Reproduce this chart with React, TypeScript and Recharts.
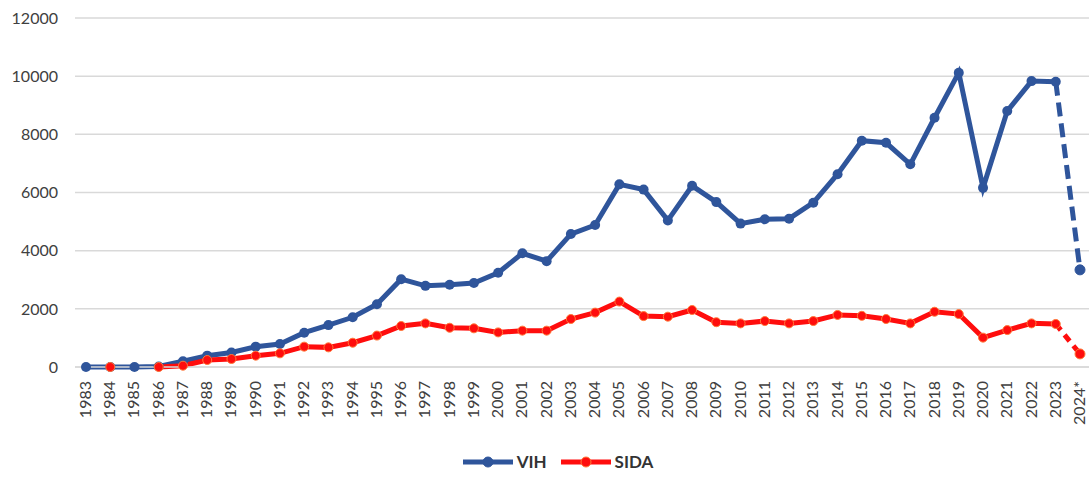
import { LineChart, Line, XAxis, YAxis, CartesianGrid, Legend } from "recharts";

const years = [
  "1983", "1984", "1985", "1986", "1987", "1988", "1989", "1990", "1991", "1992",
  "1993", "1994", "1995", "1996", "1997", "1998", "1999", "2000", "2001", "2002",
  "2003", "2004", "2005", "2006", "2007", "2008", "2009", "2010", "2011", "2012",
  "2013", "2014", "2015", "2016", "2017", "2018", "2019", "2020", "2021", "2022",
  "2023", "2024*",
];

const vih = [
  0, 0, 0, 20, 200, 390, 500, 700, 790, 1180,
  1440, 1710, 2160, 3020, 2790, 2830, 2890, 3240, 3910, 3640,
  4570, 4880, 6280, 6100, 5040, 6230, 5670, 4930, 5080, 5100,
  5650, 6630, 7780, 7710, 6970, 8570, 10120, 6160, 8800, 9830,
  9810, 3340,
];

const sida: (number | null)[] = [
  null, 0, null, 0, 45, 240, 275, 390, 470, 700,
  675, 835, 1080, 1410, 1500, 1350, 1330, 1190, 1250, 1250,
  1650, 1870, 2250, 1750, 1730, 1960, 1540, 1500, 1580, 1500,
  1580, 1790, 1760, 1650, 1500, 1900, 1820, 1010, 1270, 1500,
  1480, 450,
];

const yTicks = [0, 2000, 4000, 6000, 8000, 10000, 12000];

const BLUE = "#2F559B";
const RED = "#FF0D0D";
const last = years.length - 1;

const data = years.map((year, i) => ({
  year,
  vih: i < last ? vih[i] : null,
  sida: i < last ? sida[i] : null,
  vihEst: i >= last - 1 ? vih[i] : null,
  sidaEst: i >= last - 1 ? sida[i] : null,
}));

const YearTick = (props: any) => {
  const { x, y, payload } = props;
  return (
    <g transform={`translate(${x},${y})`}>
      <text
        transform="rotate(-90)"
        x={-6}
        y={0}
        dy={5}
        textAnchor="end"
        fill="#404040"
        fontSize={16}
        fontFamily="Lato, 'Liberation Sans', sans-serif"
      >
        {payload.value}
      </text>
    </g>
  );
};

const BlueDot = (props: any) => {
  const { cx, cy, index } = props;
  if (cy == null || index === last) return <g key={`b${index}`} />;
  return <circle key={`b${index}`} cx={cx} cy={cy} r={5} fill={BLUE} />;
};

const RedDot = (props: any) => {
  const { cx, cy, index } = props;
  if (cy == null || index === last) return <g key={`r${index}`} />;
  return (
    <circle key={`r${index}`} cx={cx} cy={cy} r={4.5} fill={RED} stroke="#FF7A3A" strokeWidth={1} />
  );
};

const EstDot = (color: string, edge?: string) => (props: any) => {
  const { cx, cy, index } = props;
  if (cy == null || index !== last) return <g key={`e${index}`} />;
  return (
    <circle key={`e${index}`} cx={cx} cy={cy} r={5} fill={color} stroke={edge ?? color} strokeWidth={1} />
  );
};

const LegendBox = () => (
  <div
    style={{
      display: "flex",
      justifyContent: "center",
      gap: 14,
      fontFamily: "Lato, 'Liberation Sans', sans-serif",
      fontSize: 17,
      fontWeight: 700,
      color: "#333333",
      paddingLeft: 22,
      paddingTop: 16,
    }}
  >
    {[
      { name: "VIH", color: BLUE, edge: BLUE },
      { name: "SIDA", color: RED, edge: "#FF7A3A" },
    ].map((s) => (
      <div key={s.name} style={{ display: "flex", alignItems: "center", gap: 4 }}>
        <svg width={50} height={14}>
          <line x1={0} y1={7} x2={50} y2={7} stroke={s.color} strokeWidth={5} />
          <circle cx={25} cy={7} r={5} fill={s.color} stroke={s.edge} strokeWidth={1} />
        </svg>
        <span>{s.name}</span>
      </div>
    ))}
  </div>
);

export default function App() {
  return (
    <div
      style={{
        position: "absolute",
        left: 0,
        top: 0,
        width: 1089,
        height: 479,
        overflow: "hidden",
        background: "#fff",
      }}
    >
      <LineChart
        width={1094}
        height={479}
        data={data}
        margin={{ top: 18, right: 0, bottom: 0, left: 0 }}
      >
        <CartesianGrid vertical={false} stroke="#D9D9D9" strokeWidth={1.5} />
        <XAxis
          dataKey="year"
          interval={0}
          padding={{ left: 11, right: 14 }}
          tick={<YearTick />}
          tickLine={false}
          axisLine={{ stroke: "#D9D9D9", strokeWidth: 1.5 }}
          height={68}
        />
        <YAxis
          domain={[0, 12000]}
          ticks={yTicks}
          width={75}
          tickLine={false}
          axisLine={false}
          tickMargin={11}
          tick={{ fill: "#404040", fontSize: 16, fontFamily: "Lato, 'Liberation Sans', sans-serif" }}
        />
        <Legend verticalAlign="bottom" height={44} content={<LegendBox />} />
        <Line
          dataKey="vih"
          stroke={BLUE}
          strokeWidth={5}
          dot={<BlueDot />}
          activeDot={false}
          isAnimationActive={false}
          legendType="none"
        />
        <Line
          dataKey="vihEst"
          stroke={BLUE}
          strokeWidth={5}
          strokeDasharray="14 7"
          dot={EstDot(BLUE)}
          activeDot={false}
          isAnimationActive={false}
          legendType="none"
        />
        <Line
          dataKey="sida"
          stroke={RED}
          strokeWidth={5}
          dot={<RedDot />}
          activeDot={false}
          isAnimationActive={false}
          legendType="none"
        />
        <Line
          dataKey="sidaEst"
          stroke={RED}
          strokeWidth={5}
          strokeDasharray="8 6"
          dot={EstDot(RED, "#FF7A3A")}
          activeDot={false}
          isAnimationActive={false}
          legendType="none"
        />
      </LineChart>
    </div>
  );
}
